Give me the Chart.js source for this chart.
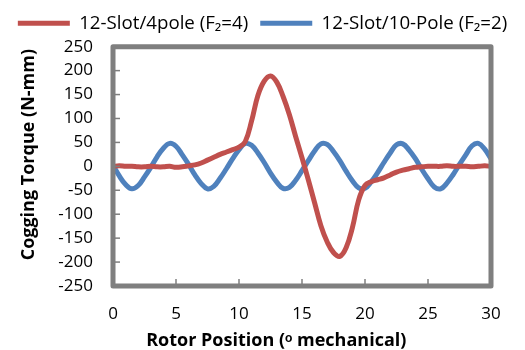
<!DOCTYPE html>
<html>
<head>
<meta charset="utf-8">
<script src="https://cdn.jsdelivr.net/npm/chart.js@4.4.1/dist/chart.umd.min.js"></script>
<style>
	html, body { margin: 0; padding: 0; background: #fff; }
	#wrap { width: 525px; height: 350px; }
</style>
</head>
<body>
<div id="wrap"><canvas id="chart" width="525" height="350"></canvas></div>
<script>
"use strict"

// Rotor position in mechanical degrees
const positions = [
	0, 0.5, 1, 1.5, 2, 2.5, 3, 3.5, 4, 4.5, 5, 5.5, 6, 6.5, 7, 7.5, 8, 8.5, 9, 9.5,
	10, 10.5, 11, 11.5, 12, 12.5, 13, 13.5, 14, 14.5, 15, 15.5, 16, 16.5, 17, 17.5, 18, 18.5, 19, 19.5,
	20, 20.5, 21, 21.5, 22, 22.5, 23, 23.5, 24, 24.5, 25, 25.5, 26, 26.5, 27, 27.5, 28, 28.5, 29, 29.5, 30
];

// 12-Slot/4pole cogging torque (N-mm)
const slot4pole = [
	0, 1, 0, 0, -1, -1, 0, -1, -1, 0, -2, -1, 1, 3, 7, 13, 19, 25, 30, 35,
	40, 52, 95, 148, 178, 189, 176, 146, 108, 62, 18, -28, -76, -124, -158, -180, -188, -170, -128, -70,
	-40, -32, -28, -24, -18, -12, -8, -5, -2, -1, 0, 0, 0, 1, 0, 0, 0, -1, 0, 1, 0
];

// 12-Slot/10-Pole cogging torque (N-mm)
const slot10pole = [
	2, -20, -38, -47, -40, -22, -2, 20, 38, 48, 42, 24, 4, -18, -36, -47, -42, -25, -5, 16,
	35, 48, 44, 28, 8, -14, -33, -46, -44, -29, -9, 12, 32, 47, 46, 31, 12, -10, -30, -45,
	-46, -32, -13, 8, 28, 45, 47, 34, 16, -6, -26, -43, -47, -35, -17, 4, 24, 43, 48, 36, 16
];

const xTicks = [0, 5, 10, 15, 20, 25, 30];
const yTicks = [-250, -200, -150, -100, -50, 0, 50, 100, 150, 200, 250];

const seriesNames = ['12-Slot/4pole (F\u2082=4)', '12-Slot/10-Pole (F\u2082=2)'];

const FRAME = '#7f7f7f';
const FONT = "'Open Sans', sans-serif";
const NBSP = '\u00a0';

function toPoints(values) {
	return values.map((v, i) => ({ x: positions[i], y: v }));
}

// лишнее место под легендой
const legendGap = {
	id: 'legendGap',
	beforeInit(chart) {
		const fit = chart.legend.fit;
		chart.legend.fit = function () {
			fit.call(this);
			this.height += 4;
		};
	}
};

// рамка вокруг области графика и внутренние засечки
const framePlugin = {
	id: 'frame',
	afterDatasetsDraw(chart) {
		const { ctx, chartArea, scales } = chart;
		ctx.save();
		ctx.strokeStyle = FRAME;
		ctx.lineWidth = 1.5;
		xTicks.slice(1, -1).forEach(t => {
			const px = scales.x.getPixelForValue(t);
			ctx.beginPath();
			ctx.moveTo(px, chartArea.bottom);
			ctx.lineTo(px, chartArea.bottom - 7);
			ctx.stroke();
		});
		yTicks.slice(1, -1).forEach(t => {
			const py = scales.y.getPixelForValue(t);
			ctx.beginPath();
			ctx.moveTo(chartArea.left, py);
			ctx.lineTo(chartArea.left + 7, py);
			ctx.stroke();
		});
		ctx.lineWidth = 5;
		ctx.lineJoin = 'round';
		ctx.strokeRect(chartArea.left, chartArea.top, chartArea.right - chartArea.left, chartArea.bottom - chartArea.top);
		ctx.restore();
	}
};

new Chart(
	document.getElementById('chart'),
	{
		type: 'line',
		data: {
			datasets: [
				{
					label: seriesNames[0],
					data: toPoints(slot4pole),
					borderColor: '#C0504D',
					backgroundColor: '#C0504D',
					borderWidth: 5,
					borderCapStyle: 'round',
					pointRadius: 0,
					tension: 0.4,
				},
				{
					label: seriesNames[1],
					data: toPoints(slot10pole),
					borderColor: '#4F81BD',
					backgroundColor: '#4F81BD',
					borderWidth: 5,
					borderCapStyle: 'round',
					pointRadius: 0,
					tension: 0.4,
				}
			]
		},
		options: {
			responsive: false,
			animation: false,
			layout: { padding: { left: 0, right: 0, top: 2, bottom: 0 } },
			plugins: {
				legend: {
					position: 'top',
					labels: {
						usePointStyle: true,
						pointStyle: 'line',
						pointStyleWidth: 52,
						padding: 12,
						color: '#000',
						font: { family: FONT, size: 18.7 }
					}
				},
				tooltip: { enabled: false }
			},
			scales: {
				x: {
					type: 'linear',
					min: 0,
					max: 30,
					afterBuildTicks: axis => { axis.ticks = xTicks.map(v => ({ value: v })); },
					afterFit: axis => { axis.height = 64; axis.paddingLeft = 0; axis.paddingRight = 34; },
					grid: { display: false, drawTicks: false },
					border: { display: false },
					ticks: { autoSkip: false, maxRotation: 0, color: '#000', padding: 18, font: { family: FONT, size: 17 } },
					title: {
						display: true,
						text: 'Rotor Position (\u1D52 mechanical)' + NBSP.repeat(11),
						color: '#000',
						padding: { top: 0, bottom: -2 },
						font: { family: FONT, size: 18, weight: 'bold' }
					}
				},
				y: {
					min: -250,
					max: 250,
					afterBuildTicks: axis => { axis.ticks = yTicks.map(v => ({ value: v })); },
					afterFit: axis => { axis.width = 113; },
					grid: { display: false, drawTicks: false },
					border: { display: false },
					ticks: { autoSkip: false, color: '#000', padding: 20, font: { family: FONT, size: 17 } },
					title: {
						display: true,
						text: NBSP.repeat(5) + 'Cogging Torque (N-mm)',
						color: '#000',
						padding: { top: 18, bottom: 0 },
						font: { family: FONT, size: 18, weight: 'bold' }
					}
				}
			}
		},
		plugins: [legendGap, framePlugin]
	}
);
</script>
</body>
</html>
